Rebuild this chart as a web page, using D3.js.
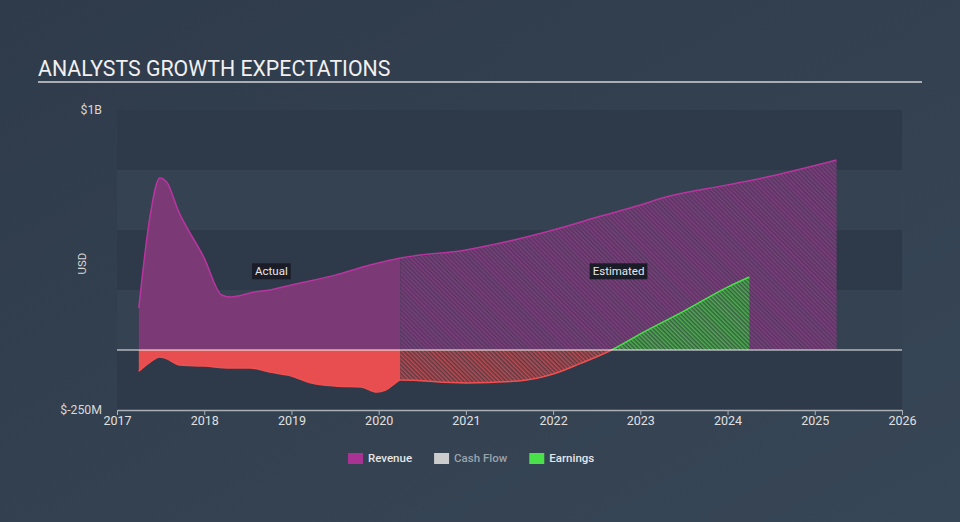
<!DOCTYPE html>
<html>
<head>
<meta charset="utf-8">
<script src="https://cdn.jsdelivr.net/npm/d3@7"></script>
<style>
  body { margin: 0; background: #344354; }
  svg { display: block; font-family: Roboto, "Open Sans", sans-serif; }
</style>
</head>
<body>
<div id="chart"></div>
<script>
// data (values in $M, x in decimal years)
const revenueActual = [
  [2017.25, 175], [2017.38, 560], [2017.49, 717], [2017.57, 700], [2017.7, 583],
  [2018.0, 383], [2018.2, 229], [2018.3, 221], [2018.58, 242], [2018.75, 250],
  [2019.0, 271], [2019.5, 312], [2019.9, 354], [2020.25, 383]
];
const revenueEst = [
  [2020.25, 383], [2021.0, 417], [2021.5, 454], [2022.0, 500], [2022.55, 558],
  [2023.0, 604], [2023.25, 633], [2024.0, 688], [2024.4, 717], [2025.25, 792]
];
const earningsActual = [
  [2017.25, -88], [2017.38, -50], [2017.49, -29], [2017.55, -33], [2017.72, -63],
  [2018.0, -67], [2018.3, -75], [2018.53, -75], [2018.75, -92], [2019.0, -108],
  [2019.22, -137], [2019.5, -150], [2019.8, -154], [2019.98, -175], [2020.08, -167],
  [2020.25, -125]
];
const earningsEst = [
  [2020.25, -125], [2021.0, -137], [2021.6, -129], [2022.0, -100], [2022.3, -58],
  [2022.67, 0], [2023.0, 67], [2023.5, 162], [2024.0, 262], [2024.25, 304]
];
const yearTicks = [2017, 2018, 2019, 2020, 2021, 2022, 2023, 2024, 2025, 2026];
const yBands = [1000, 750, 500, 250, 0];
const yLabels = [[1000, '$1B'], [-250, '$-250M']];
const legendItems = [
  { name: 'Revenue', color: '#a93392', text: '#e6e6e6' },
  { name: 'Cash Flow', color: '#cccccc', text: '#9aa3ad' },
  { name: 'Earnings', color: '#4ae04a', text: '#e6e6e6' }
];

const W = 960, H = 522;
const margin = { left: 117, right: 58, top: 110, bottom: 112 };
const width = W - margin.left - margin.right;
const height = H - margin.top - margin.bottom;

const x = d3.scaleLinear().domain([2017, 2026]).range([0, width]);
const y = d3.scaleLinear().domain([-250, 1000]).range([height, 0]);

const svg = d3.select('#chart').append('svg')
  .attr('width', W).attr('height', H);

const defs = svg.append('defs');
// background gradient
const bg = defs.append('linearGradient').attr('id', 'bg')
  .attr('x1', 0).attr('y1', 0).attr('x2', 1).attr('y2', 1);
bg.append('stop').attr('offset', 0).attr('stop-color', '#2f3b4b');
bg.append('stop').attr('offset', 1).attr('stop-color', '#374656');

function hatch(id, back, color) {
  const p = defs.append('pattern').attr('id', id)
    .attr('patternUnits', 'userSpaceOnUse')
    .attr('width', 3).attr('height', 3)
    .attr('patternTransform', 'rotate(-45)');
  p.append('rect').attr('width', 3).attr('height', 3).attr('fill', back);
  p.append('rect').attr('width', 1.5).attr('height', 3).attr('fill', color);
}
hatch('hatch-rev', '#4f3a5e', '#833c7e');
hatch('hatch-red', '#573c48', '#bf4a4d');
hatch('hatch-green', '#3d5a48', '#4bb04c');

defs.append('clipPath').attr('id', 'above')
  .append('rect').attr('x', -10).attr('y', -10).attr('width', width + 20).attr('height', y(0) + 10);
defs.append('clipPath').attr('id', 'below')
  .append('rect').attr('x', -10).attr('y', y(0)).attr('width', width + 20).attr('height', height);

svg.append('rect').attr('width', W).attr('height', H).attr('fill', 'url(#bg)');

// title
svg.append('text')
  .attr('x', 38).attr('y', 76)
  .attr('fill', '#f0f0f0').attr('font-size', 21.3)
  .text('ANALYSTS GROWTH EXPECTATIONS');
svg.append('line')
  .attr('x1', 38).attr('x2', 922).attr('y1', 82).attr('y2', 82)
  .attr('stroke', '#a9aeb4').attr('stroke-width', 2);

const chart = svg.append('g')
  .attr('transform', `translate(${margin.left}, ${margin.top})`);

// bands
chart.selectAll('.band')
  .data(yBands)
  .enter().append('rect')
  .attr('class', 'band')
  .attr('x', 0).attr('width', width)
  .attr('y', d => y(d))
  .attr('height', d => y(d - 250) - y(d))
  .attr('fill', (d, i) => i % 2 === 0 ? '#2e3a4a' : '#344252');

const area = d3.area().curve(d3.curveMonotoneX)
  .x(d => x(d[0])).y0(y(0)).y1(d => y(d[1]));
const line = d3.line().curve(d3.curveMonotoneX)
  .x(d => x(d[0])).y(d => y(d[1]));

// revenue
chart.append('path').datum(revenueActual).attr('d', area).attr('fill', '#7b3a75');
chart.append('path').datum(revenueEst).attr('d', area).attr('fill', 'url(#hatch-rev)');
chart.append('path').datum(revenueActual.concat(revenueEst.slice(1))).attr('d', line)
  .attr('fill', 'none').attr('stroke', '#b8359f').attr('stroke-width', 1.5);

// earnings
chart.append('path').datum(earningsActual).attr('d', area).attr('fill', '#e84e50');
chart.append('path').datum(earningsEst).attr('d', area).attr('fill', 'url(#hatch-red)')
  .attr('clip-path', 'url(#below)');
chart.append('path').datum(earningsEst).attr('d', area).attr('fill', 'url(#hatch-green)')
  .attr('clip-path', 'url(#above)');
const earnAll = earningsActual.concat(earningsEst.slice(1));
chart.append('path').datum(earnAll).attr('d', line)
  .attr('fill', 'none').attr('stroke', '#f0504f').attr('stroke-width', 1.5)
  .attr('clip-path', 'url(#below)');
chart.append('path').datum(earnAll).attr('d', line)
  .attr('fill', 'none').attr('stroke', '#4ae04a').attr('stroke-width', 1.5)
  .attr('clip-path', 'url(#above)');

// zero line
chart.append('line')
  .attr('x1', 0).attr('x2', width).attr('y1', y(0)).attr('y2', y(0))
  .attr('stroke', '#f2f2f2').attr('stroke-width', 1);

// x axis
const xAxis = d3.axisBottom(x).tickValues(yearTicks).tickFormat(d3.format('d'))
  .tickSize(5).tickSizeOuter(0);
const xAxisG = chart.append('g')
  .attr('transform', `translate(0, ${height})`)
  .call(xAxis);
xAxisG.select('.domain').attr('stroke', '#a9b0b8').attr('stroke-width', 1.5);
xAxisG.selectAll('.tick line').attr('stroke', '#a9b0b8');
xAxisG.selectAll('.tick text').attr('fill', '#e0e0e0').attr('font-size', 12.5)
  .attr('font-family', 'Roboto, sans-serif').attr('dy', '0.55em');

// y labels
chart.selectAll('.ylab')
  .data(yLabels)
  .enter().append('text')
  .attr('class', 'ylab')
  .attr('x', -15).attr('y', d => y(d[0]))
  .attr('dy', '0.35em')
  .attr('text-anchor', 'end')
  .attr('fill', '#d8d8d8').attr('font-size', 12.3)
  .text(d => d[1]);
chart.append('text')
  .attr('transform', `translate(-31, ${y(360)}) rotate(-90)`)
  .attr('text-anchor', 'middle')
  .attr('fill', '#d8d8d8').attr('font-size', 11.5)
  .text('USD');

// period labels
function tag(label, cx, cy) {
  const g = chart.append('g');
  const t = g.append('text')
    .attr('x', cx).attr('y', cy).attr('dy', '0.35em')
    .attr('text-anchor', 'middle')
    .attr('fill', '#e8e8e8').attr('font-size', 11.5)
    .text(label);
  const b = t.node().getBBox();
  g.insert('rect', 'text')
    .attr('x', b.x - 3).attr('y', b.y - 1)
    .attr('width', b.width + 6).attr('height', b.height + 2)
    .attr('fill', '#1a1d27');
}
tag('Actual', x(2018.77), y(328));
tag('Estimated', x(2022.75), y(328));

// legend
const legend = svg.append('g').attr('transform', 'translate(348, 458)');
let lx = 0;
legendItems.forEach(item => {
  const g = legend.append('g').attr('transform', `translate(${lx}, 0)`);
  g.append('rect').attr('x', 0).attr('y', -5).attr('width', 15).attr('height', 11)
    .attr('fill', item.color);
  const t = g.append('text').attr('x', 20).attr('y', 0).attr('dy', '0.35em')
    .attr('fill', item.text).attr('font-size', 11.5).attr('font-weight', 500)
    .text(item.name);
  lx += 20 + t.node().getComputedTextLength() + 22;
});
</script>
</body>
</html>
